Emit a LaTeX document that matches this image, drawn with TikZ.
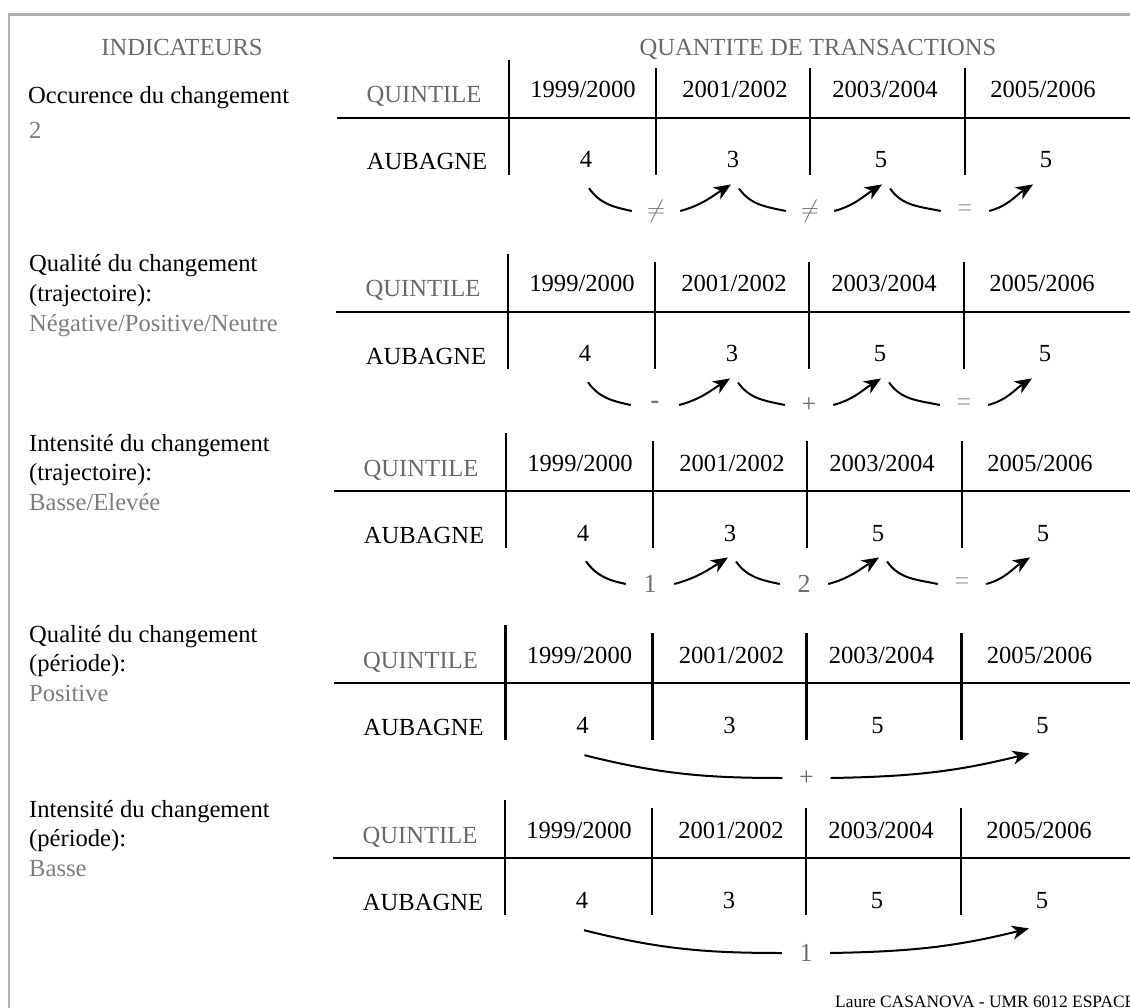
\documentclass[tikz,border=0pt]{standalone}
\usepackage{fontspec}
\setmainfont{Liberation Serif}
\usetikzlibrary{arrows.meta}
\definecolor{hdrGray}{RGB}{105,105,105}
\definecolor{subGray}{RGB}{125,125,125}
\definecolor{lblGray}{RGB}{110,110,110}
\definecolor{eqGray}{RGB}{160,160,160}
\definecolor{frameGray}{RGB}{175,175,175}

\begin{document}
\begin{tikzpicture}[x=1pt,y=1pt,font=\fontsize{24.6}{29.5}\selectfont,
  hdr/.style={text=hdrGray,inner sep=0pt,anchor=base},
  ttl/.style={inner sep=0pt,anchor=base west},
  subval/.style={text=subGray,inner sep=0pt,anchor=base west},
  yr/.style={inner sep=0pt,anchor=base},
  val/.style={inner sep=0pt,anchor=base},
  chg/.style={text=lblGray,inner sep=0pt,minimum width=48pt,font=\fontsize{26}{30}\selectfont},
  tabline/.style={line width=2.7pt},
  trend/.style={line width=2pt},
  trendarr/.style={trend,-{Stealth[length=17pt,width=14pt,inset=5pt]}}]
  \useasboundingbox (0,0) rectangle (1130,-1008);

  % frame
  \draw[frameGray,line width=2.5pt] (9,-1020) -- (9,-14.5) -- (1140,-14.5);

  % headers
  \node[hdr] (indic) at (182,-56) {INDICATEURS};
  \node[hdr] (quant) at (818,-56) {QUANTITE DE TRANSACTIONS};

  % block 1 : occurence
  \begin{scope}[shift={(0,-118)}]
    \node[ttl] (t1) at (28,14) {Occurence du changement};
    \node[subval] (s1) at (29,-21) {2};
    \node[hdr] (q1) at (424,15) {QUINTILE};
    \node[yr] (y11) at (583,20) {1999/2000};
    \node[yr] (y12) at (735,20) {2001/2002};
    \node[yr] (y13) at (885,20) {2003/2004};
    \node[yr] (y14) at (1043,20) {2005/2006};
    \node[val] (a1) at (427,-52) {AUBAGNE};
    \node[val] (v11) at (586,-50) {4};
    \node[val] (v12) at (733,-50) {3};
    \node[val] (v13) at (881,-50) {5};
    \node[val] (v14) at (1046,-50) {5};
    \draw[tabline] (337,0) -- (1140,0);
    \draw[tabline] (509,58) -- (509,-57);
    \draw[tabline] (656,50) -- (656,-57);
    \draw[tabline] (810,50) -- (810,-57);
    \draw[tabline] (965,50) -- (965,-57);
    \node[chg] (l11) at (656,-93) {$\neq$};
    \node[chg] (l12) at (810,-93) {$\neq$};
    \node[chg,text=eqGray] (l13) at (965,-93) {=};
    \draw[trend] ([shift={(3,-20)}]v11.south) to[out=-55,in=168] (l11.west);
    \draw[trendarr] (l11.east) to[out=15,in=-148] ([shift={(-2,-16)}]v12.south);
    \draw[trend] ([shift={(6,-20)}]v12.south) to[out=-55,in=168] (l12.west);
    \draw[trendarr] (l12.east) to[out=15,in=-148] ([shift={(1,-16)}]v13.south);
    \draw[trend] ([shift={(9,-20)}]v13.south) to[out=-55,in=168] (l13.west);
    \draw[trendarr] (l13.east) to[out=15,in=-148] ([shift={(-13,-16)}]v14.south);
  \end{scope}

  % block 2 : qualite trajectoire
  \begin{scope}[shift={(-1,-312)}]
    \node[ttl] (t2) at (30,40) {Qualité du changement};
    \node[ttl] (t2b) at (30,10.5) {(trajectoire):};
    \node[subval] (s2) at (30,-19) {Négative/Positive/Neutre};
    \node[hdr] (q2) at (424,15) {QUINTILE};
    \node[yr] (y21) at (583,20) {1999/2000};
    \node[yr] (y22) at (735,20) {2001/2002};
    \node[yr] (y23) at (885,20) {2003/2004};
    \node[yr] (y24) at (1043,20) {2005/2006};
    \node[val] (a2) at (427,-52) {AUBAGNE};
    \node[val] (v21) at (586,-50) {4};
    \node[val] (v22) at (733,-50) {3};
    \node[val] (v23) at (881,-50) {5};
    \node[val] (v24) at (1046,-50) {5};
    \draw[tabline] (337,0) -- (1140,0);
    \draw[tabline] (509,58) -- (509,-57);
    \draw[tabline] (656,50) -- (656,-57);
    \draw[tabline] (810,50) -- (810,-57);
    \draw[tabline] (965,50) -- (965,-57);
    \node[chg] (l21) at (656,-93) {\textbf{-}};
    \node[chg] (l22) at (810,-93) {+};
    \node[chg,text=eqGray] (l23) at (965,-93) {=};
    \draw[trend] ([shift={(3,-20)}]v21.south) to[out=-55,in=168] (l21.west);
    \draw[trendarr] (l21.east) to[out=15,in=-148] ([shift={(-2,-16)}]v22.south);
    \draw[trend] ([shift={(6,-20)}]v22.south) to[out=-55,in=168] (l22.west);
    \draw[trendarr] (l22.east) to[out=15,in=-148] ([shift={(1,-16)}]v23.south);
    \draw[trend] ([shift={(9,-20)}]v23.south) to[out=-55,in=168] (l23.west);
    \draw[trendarr] (l23.east) to[out=15,in=-148] ([shift={(-13,-16)}]v24.south);
  \end{scope}

  % block 3 : intensite trajectoire
  \begin{scope}[shift={(-3,-491)}]
    \node[ttl] (t3) at (32,40) {Intensité du changement};
    \node[ttl] (t3b) at (32,10.5) {(trajectoire):};
    \node[subval] (s3) at (32,-19) {Basse/Elevée};
    \node[hdr] (q3) at (424,15) {QUINTILE};
    \node[yr] (y31) at (583,20) {1999/2000};
    \node[yr] (y32) at (735,20) {2001/2002};
    \node[yr] (y33) at (885,20) {2003/2004};
    \node[yr] (y34) at (1043,20) {2005/2006};
    \node[val] (a3) at (427,-52) {AUBAGNE};
    \node[val] (v31) at (586,-50) {4};
    \node[val] (v32) at (733,-50) {3};
    \node[val] (v33) at (881,-50) {5};
    \node[val] (v34) at (1046,-50) {5};
    \draw[tabline] (337,0) -- (1140,0);
    \draw[tabline] (509,58) -- (509,-57);
    \draw[tabline] (656,50) -- (656,-57);
    \draw[tabline] (810,50) -- (810,-57);
    \draw[tabline] (965,50) -- (965,-57);
    \node[chg] (l31) at (653,-93) {1};
    \node[chg] (l32) at (807,-93) {2};
    \node[chg,text=eqGray] (l33) at (965,-93) {=};
    \draw[trend] ([shift={(3,-20)}]v31.south) to[out=-55,in=168] (l31.west);
    \draw[trendarr] (l31.east) to[out=15,in=-148] ([shift={(-2,-16)}]v32.south);
    \draw[trend] ([shift={(6,-20)}]v32.south) to[out=-55,in=168] (l32.west);
    \draw[trendarr] (l32.east) to[out=15,in=-148] ([shift={(1,-16)}]v33.south);
    \draw[trend] ([shift={(9,-20)}]v33.south) to[out=-55,in=168] (l33.west);
    \draw[trendarr] (l33.east) to[out=15,in=-148] ([shift={(-13,-16)}]v34.south);
  \end{scope}

  % block 4 : qualite periode
  \begin{scope}[shift={(-3.5,-683)}]
    \node[ttl] (t4) at (32.5,41) {Qualité du changement};
    \node[ttl] (t4b) at (32.5,11.5) {(période):};
    \node[subval] (s4) at (32.5,-18.5) {Positive};
    \node[hdr] (q4) at (424,15) {QUINTILE};
    \node[yr] (y41) at (583,20) {1999/2000};
    \node[yr] (y42) at (735,20) {2001/2002};
    \node[yr] (y43) at (885,20) {2003/2004};
    \node[yr] (y44) at (1043,20) {2005/2006};
    \node[val] (a4) at (427,-52) {AUBAGNE};
    \node[val] (v41) at (586,-50) {4};
    \node[val] (v42) at (733,-50) {3};
    \node[val] (v43) at (881,-50) {5};
    \node[val] (v44) at (1046,-50) {5};
    \draw[tabline] (337,0) -- (1140,0);
    \draw[tabline] (509,58) -- (509,-57);
    \draw[tabline] (656,50) -- (656,-57);
    \draw[tabline] (810,50) -- (810,-57);
    \draw[tabline] (965,50) -- (965,-57);
    \node[chg] (l41) at (810,-95) {+};
    \draw[trend] ([shift={(2,-22)}]v41.south) to[out=-14,in=180] (l41.west);
    \draw[trendarr] (l41.east) to[out=1,in=-166] ([shift={(-13,-20)}]v44.south);
  \end{scope}

  % block 5 : intensite periode
  \begin{scope}[shift={(-4,-858)}]
    \node[ttl] (t5) at (33,41) {Intensité du changement};
    \node[ttl] (t5b) at (33,11.5) {(période):};
    \node[subval] (s5) at (33,-18.5) {Basse};
    \node[hdr] (q5) at (424,15) {QUINTILE};
    \node[yr] (y51) at (583,20) {1999/2000};
    \node[yr] (y52) at (735,20) {2001/2002};
    \node[yr] (y53) at (885,20) {2003/2004};
    \node[yr] (y54) at (1043,20) {2005/2006};
    \node[val] (a5) at (427,-52) {AUBAGNE};
    \node[val] (v51) at (586,-50) {4};
    \node[val] (v52) at (733,-50) {3};
    \node[val] (v53) at (881,-50) {5};
    \node[val] (v54) at (1046,-50) {5};
    \draw[tabline] (337,0) -- (1140,0);
    \draw[tabline] (509,58) -- (509,-57);
    \draw[tabline] (656,50) -- (656,-57);
    \draw[tabline] (810,50) -- (810,-57);
    \draw[tabline] (965,50) -- (965,-57);
    \node[chg] (l51) at (810,-95) {1};
    \draw[trend] ([shift={(2,-22)}]v51.south) to[out=-14,in=180] (l51.west);
    \draw[trendarr] (l51.east) to[out=1,in=-166] ([shift={(-13,-20)}]v54.south);
  \end{scope}

  % credit
  \node[anchor=base west,inner sep=0pt,font=\fontsize{17.4}{20}\selectfont] (credit)
    at (835,-1007) {Laure CASANOVA - UMR 6012 ESPACE};
\end{tikzpicture}
\end{document}
